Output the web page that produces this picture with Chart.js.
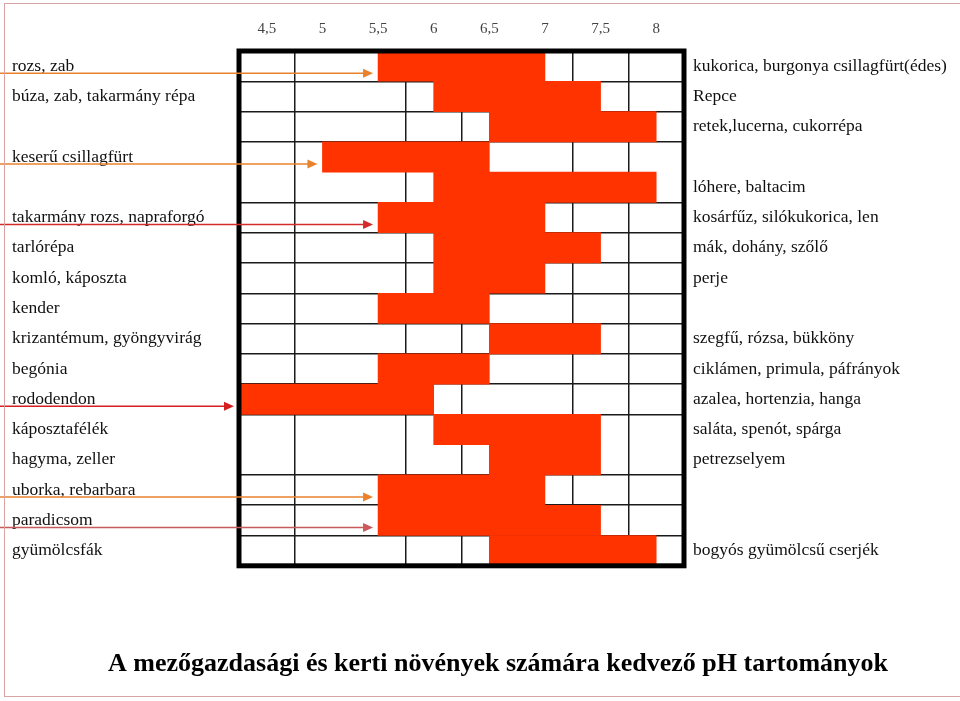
<!DOCTYPE html>
<html>
<head>
<meta charset="utf-8">
<script src="https://cdn.jsdelivr.net/npm/chart.js@4.4.0/dist/chart.umd.min.js"></script>
<style>
  html, body { margin: 0; padding: 0; background: #fff; }
  #phChart { display: block; }
</style>
</head>
<body>
<canvas id="phChart" width="960" height="701"></canvas>
<script>
// row labels, left and right of the table
var leftLabels = [
    "rozs, zab", "búza, zab, takarmány répa", "", "keserű csillagfürt", "",
    "takarmány rozs, napraforgó", "tarlórépa", "komló, káposzta", "kender",
    "krizantémum, gyöngyvirág", "begónia", "rododendon", "káposztafélék",
    "hagyma, zeller", "uborka, rebarbara", "paradicsom", "gyümölcsfák"
];
var rightLabels = [
    "kukorica, burgonya csillagfürt(édes)", "Repce", "retek,lucerna, cukorrépa", "",
    "lóhere, baltacim", "kosárfűz, silókukorica, len", "mák, dohány, szőlő", "perje", "",
    "szegfű, rózsa, bükköny", "ciklámen, primula, páfrányok", "azalea, hortenzia, hanga",
    "saláta, spenót, spárga", "petrezselyem", "", "", "bogyós gyümölcsű cserjék"
];

// favourable pH range of each row
var phFrom = [5.5, 6, 6.5, 5, 6, 5.5, 6, 6, 5.5, 6.5, 5.5, 4.25, 6, 6.5, 5.5, 5.5, 6.5];
var phTo   = [7, 7.5, 8, 6.5, 8, 7, 7.5, 7, 6.5, 7.5, 6.5, 6, 7.5, 7.5, 7, 7.5, 8];

// tick labels on top and the table's column lines
var phTicks = [4.5, 5, 5.5, 6, 6.5, 7, 7.5, 8];
var columnLines = [4.75, 5.75, 6.25, 7.25, 7.75];
// rows with no line above them (merged cells)
var mergedRows = [4, 13];

// arrows pointing at the start of a range
var arrowRows = [0, 3, 5, 11, 14, 15];
var arrowColors = ["#e8822c", "#e8822c", "#d42a2a", "#d42020", "#e8822c", "#c85a5a"];

var serif = "'Liberation Serif', 'Times New Roman', serif";

var ranges = phFrom.map(function(v, i) { return [v, phTo[i]]; });

// thick frame round the table + arrows
var tablePlugin = {
    id: "tableFrame",
    afterDraw: function(chart) {
        var ctx = chart.ctx;
        var a = chart.chartArea;
        var x = chart.scales.x, y = chart.scales.y;

        ctx.save();
        ctx.strokeStyle = "#000";
        ctx.lineWidth = 5;
        ctx.strokeRect(a.left, a.top, a.right - a.left, a.bottom - a.top);

        arrowRows.forEach(function(row, i) {
            var yy = y.getPixelForValue(row) + 7;
            var tip = x.getPixelForValue(phFrom[row]) - 5;
            ctx.strokeStyle = arrowColors[i];
            ctx.fillStyle = arrowColors[i];
            ctx.lineWidth = 1.5;
            ctx.beginPath();
            ctx.moveTo(0, yy);
            ctx.lineTo(tip - 8, yy);
            ctx.stroke();
            ctx.beginPath();
            ctx.moveTo(tip, yy);
            ctx.lineTo(tip - 10, yy - 4.5);
            ctx.lineTo(tip - 10, yy + 4.5);
            ctx.closePath();
            ctx.fill();
        });

        // faint slide frame
        ctx.strokeStyle = "#d9a3a3";
        ctx.lineWidth = 1;
        ctx.strokeRect(4.5, 3.5, 1000, 693);
        ctx.restore();
    }
};

var ctx = document.getElementById("phChart").getContext("2d");
var phChart = new Chart(ctx, {
    type: "bar",
    data: {
        labels: leftLabels,
        datasets: [{
            label: "pH",
            data: ranges,
            backgroundColor: "#ff3300",
            borderWidth: 0,
            barPercentage: 1,
            categoryPercentage: 1
        }]
    },
    options: {
        indexAxis: "y",
        responsive: false,
        animation: false,
        layout: { padding: { top: 7, left: 12, right: -24, bottom: 0 } },
        plugins: {
            legend: { display: false },
            tooltip: { enabled: false },
            title: {
                display: true,
                position: "bottom",
                text: "A mezőgazdasági és kerti növények számára kedvező pH tartományok",
                color: "#000",
                font: { family: serif, size: 26, weight: "bold" },
                padding: { top: 83, bottom: 21 }
            }
        },
        scales: {
            x: {
                position: "top",
                min: 4.25,
                max: 8.25,
                z: 1,
                border: { display: false },
                grid: {
                    drawTicks: false,
                    lineWidth: 1.5,
                    color: function(c) {
                        return c.tick && columnLines.indexOf(c.tick.value) >= 0 ? "#1a1a1a" : "rgba(0,0,0,0)";
                    }
                },
                afterBuildTicks: function(scale) {
                    var vals = phTicks.concat(columnLines).sort(function(a, b) { return a - b; });
                    scale.ticks = vals.map(function(v) { return { value: v }; });
                },
                ticks: {
                    autoSkip: false,
                    maxRotation: 0,
                    padding: 13,
                    color: "#444",
                    font: { family: serif, size: 15 },
                    callback: function(v) {
                        return phTicks.indexOf(v) >= 0 ? String(v).replace(".", ",") : "";
                    }
                }
            },
            y: {
                position: "left",
                offset: true,
                z: 1,
                border: { display: false },
                grid: {
                    offset: true,
                    drawTicks: false,
                    lineWidth: 1.5,
                    color: function(c) {
                        return mergedRows.indexOf(c.index) >= 0 ? "rgba(0,0,0,0)" : "#1a1a1a";
                    }
                },
                afterFit: function(scale) { scale.width = 227; },
                ticks: {
                    autoSkip: false,
                    crossAlign: "far",
                    color: "#111",
                    font: { family: serif, size: 17.5 }
                }
            },
            y2: {
                type: "category",
                labels: rightLabels,
                position: "right",
                offset: true,
                border: { display: false },
                grid: { display: false, drawTicks: false },
                afterFit: function(scale) { scale.width = 300; },
                ticks: {
                    autoSkip: false,
                    crossAlign: "near",
                    padding: 9,
                    color: "#111",
                    font: { family: serif, size: 17.5 }
                }
            }
        }
    },
    plugins: [tablePlugin]
});
</script>
</body>
</html>
